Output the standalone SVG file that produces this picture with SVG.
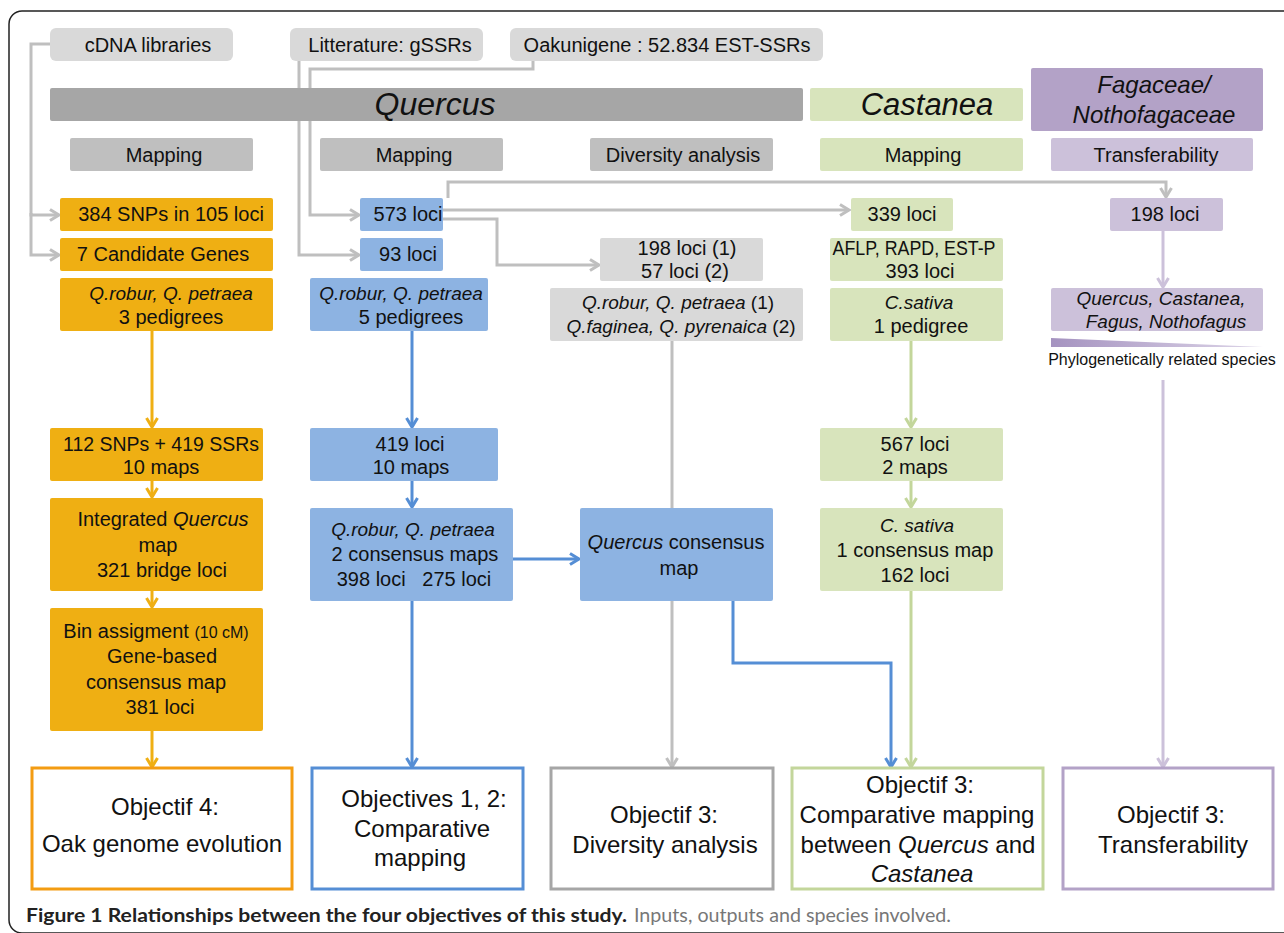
<svg xmlns="http://www.w3.org/2000/svg" width="1284" height="933" viewBox="0 0 1284 933">
<defs>
<style>
text{font-family:"Liberation Sans",Arial,sans-serif;fill:#111;text-anchor:middle}
.t18{font-size:20px}
.i{font-style:italic;font-size:19px}
.src{fill:#d9d9d9}
.sub{fill:#bfbfbf}
.or{fill:#efaf13}
.bl{fill:#8db3e2}
.gr{fill:#d9d9d9}
.gn{fill:#d8e4bc}
.pu{fill:#ccc1da}
.obj{fill:#fff;stroke-width:3}
.obt{font-size:24px}
.cg{fill:none;stroke:#bfbfbf;stroke-width:3}
.co{fill:none;stroke:#efaf13;stroke-width:3}
.cb{fill:none;stroke:#558ed5;stroke-width:3}
.cn{fill:none;stroke:#c3d69b;stroke-width:3}
.cp{fill:none;stroke:#ccc1da;stroke-width:3}
</style>
<marker id="ag" markerUnits="userSpaceOnUse" markerWidth="14" markerHeight="14" viewBox="0 0 14 14" refX="11" refY="7" orient="auto"><path d="M2,1.5 L11,7 L2,12.5" fill="none" stroke="#bfbfbf" stroke-width="3"/></marker>
<marker id="ao" markerUnits="userSpaceOnUse" markerWidth="14" markerHeight="14" viewBox="0 0 14 14" refX="11" refY="7" orient="auto"><path d="M2,1.5 L11,7 L2,12.5" fill="none" stroke="#efaf13" stroke-width="3"/></marker>
<marker id="ab" markerUnits="userSpaceOnUse" markerWidth="14" markerHeight="14" viewBox="0 0 14 14" refX="11" refY="7" orient="auto"><path d="M2,1.5 L11,7 L2,12.5" fill="none" stroke="#558ed5" stroke-width="3"/></marker>
<marker id="an" markerUnits="userSpaceOnUse" markerWidth="14" markerHeight="14" viewBox="0 0 14 14" refX="11" refY="7" orient="auto"><path d="M2,1.5 L11,7 L2,12.5" fill="none" stroke="#c3d69b" stroke-width="3"/></marker>
<marker id="ap" markerUnits="userSpaceOnUse" markerWidth="14" markerHeight="14" viewBox="0 0 14 14" refX="11" refY="7" orient="auto"><path d="M2,1.5 L11,7 L2,12.5" fill="none" stroke="#ccc1da" stroke-width="3"/></marker>
<linearGradient id="wedge" x1="0" y1="0" x2="1" y2="0"><stop offset="0" stop-color="#a593c0"/><stop offset="1" stop-color="#ddd5e8"/></linearGradient>
</defs>
<rect width="1284" height="933" fill="#fff"/>
<rect x="9" y="11" width="1300" height="922" rx="13" fill="none" stroke="#222" stroke-width="1.5"/>

<g id="connectors">
<path class="cg" d="M50,44 H31 V215 H59" marker-end="url(#ag)"/>
<path class="cg" d="M31,213 V255 H59" marker-end="url(#ag)"/>
<path class="cg" d="M299,61 V255 H359" marker-end="url(#ag)"/>
<path class="cg" d="M533,61 V69 H310 V215 H359" marker-end="url(#ag)"/>
<path class="cg" d="M448,198 V182 H1166 V197" marker-end="url(#ag)"/>
<path class="cg" d="M443,210 H849" marker-end="url(#ag)"/>
<path class="cg" d="M443,219 H497 V265 H599" marker-end="url(#ag)"/>
<path class="cg" d="M672,341 V508"/>
<path class="cg" d="M672,601 V767" marker-end="url(#ag)"/>
<path class="co" d="M152,331 V427" marker-end="url(#ao)"/>
<path class="co" d="M152,481 V497" marker-end="url(#ao)"/>
<path class="co" d="M152,591 V607" marker-end="url(#ao)"/>
<path class="co" d="M152,731 V767" marker-end="url(#ao)"/>
<path class="cb" d="M412,331 V427" marker-end="url(#ab)"/>
<path class="cb" d="M412,481 V507" marker-end="url(#ab)"/>
<path class="cb" d="M513,559 H579" marker-end="url(#ab)"/>
<path class="cb" d="M412,601 V767" marker-end="url(#ab)"/>
<path class="cb" d="M733,601 V663 H891 V767" stroke-width="2.5" marker-end="url(#ab)"/>
<path class="cn" d="M911,341 V427" marker-end="url(#an)"/>
<path class="cn" d="M911,481 V507" marker-end="url(#an)"/>
<path class="cn" d="M911,591 V767" marker-end="url(#an)"/>
<path class="cp" d="M1163,231 V287" marker-end="url(#ap)"/>
<path class="cp" d="M1163,380 V767" marker-end="url(#ap)"/>
</g>

<g id="src-cdna"><rect class="src" x="50" y="28" width="183" height="33" rx="6"/><text class="t18" x="148" y="52">cDNA libraries</text></g>
<g id="src-lit"><rect class="src" x="290" y="28" width="193" height="33" rx="6"/><text class="t18" x="390" y="52">Litterature: gSSRs</text></g>
<g id="src-oak"><rect class="src" x="510" y="28" width="313" height="33" rx="6"/><text class="t18" x="667" y="52">Oakunigene : 52.834 EST-SSRs</text></g>

<g id="hdr-quercus"><rect x="50" y="88" width="753" height="33" rx="2" fill="#a6a6a6"/><text x="435" y="115" style="font-size:32px;font-style:italic">Quercus</text></g>
<g id="hdr-castanea"><rect x="810" y="88" width="213" height="33" rx="2" fill="#d8e4bc"/><text x="927" y="115" style="font-size:31px;font-style:italic">Castanea</text></g>
<g id="hdr-fagaceae"><rect x="1031" y="68" width="232" height="63" rx="2" fill="#b3a2c7"/><text x="1154" y="93" style="font-size:24px;font-style:italic">Fagaceae/</text><text x="1154" y="123" style="font-size:24px;font-style:italic">Nothofagaceae</text></g>

<g id="sub-map1"><rect class="sub" x="70" y="138" width="183" height="33" rx="2"/><text class="t18" x="164" y="162">Mapping</text></g>
<g id="sub-map2"><rect class="sub" x="320" y="138" width="183" height="33" rx="2"/><text class="t18" x="414" y="162">Mapping</text></g>
<g id="sub-div"><rect class="sub" x="590" y="138" width="183" height="33" rx="2"/><text class="t18" x="683" y="162">Diversity analysis</text></g>
<g id="sub-map3"><rect class="gn" x="820" y="138" width="203" height="33" rx="2"/><text class="t18" x="923" y="162">Mapping</text></g>
<g id="sub-trans"><rect class="pu" x="1051" y="138" width="202" height="33" rx="2"/><text class="t18" x="1156" y="162">Transferability</text></g>

<g id="o-snps"><rect class="or" x="60" y="198" width="213" height="33" rx="2"/><text class="t18" x="171" y="221">384 SNPs in 105 loci</text></g>
<g id="o-cand"><rect class="or" x="60" y="238" width="213" height="33" rx="2"/><text class="t18" x="163" y="261">7 Candidate Genes</text></g>
<g id="o-ped"><rect class="or" x="60" y="278" width="213" height="53" rx="2"/><text class="t18 i" x="171" y="300">Q.robur, Q. petraea</text><text class="t18" x="171" y="324">3 pedigrees</text></g>
<g id="o-maps"><rect class="or" x="50" y="428" width="213" height="53" rx="2"/><text class="t18" x="161" y="451" textLength="196" lengthAdjust="spacingAndGlyphs">112 SNPs + 419 SSRs</text><text class="t18" x="161" y="474">10 maps</text></g>
<g id="o-int"><rect class="or" x="50" y="498" width="213" height="93" rx="2"/><text class="t18" x="163" y="526">Integrated <tspan style="font-style:italic">Quercus</tspan></text><text class="t18" x="158" y="552">map</text><text class="t18" x="162" y="577">321 bridge loci</text></g>
<g id="o-bin"><rect class="or" x="50" y="608" width="213" height="123" rx="2"/><text class="t18" x="156" y="638">Bin assigment <tspan style="font-size:16px">(10 cM)</tspan></text><text class="t18" x="162" y="663">Gene-based</text><text class="t18" x="156" y="689">consensus map</text><text class="t18" x="160" y="714">381 loci</text></g>

<g id="b-573"><rect class="bl" x="360" y="198" width="83" height="33" rx="2"/><text class="t18" x="408" y="221">573 loci</text></g>
<g id="b-93"><rect class="bl" x="360" y="238" width="83" height="33" rx="2"/><text class="t18" x="408" y="261">93 loci</text></g>
<g id="b-ped"><rect class="bl" x="310" y="278" width="178" height="53" rx="2"/><text class="t18 i" x="401" y="300">Q.robur, Q. petraea</text><text class="t18" x="411" y="324">5 pedigrees</text></g>
<g id="b-maps"><rect class="bl" x="310" y="428" width="188" height="53" rx="2"/><text class="t18" x="410" y="451">419 loci</text><text class="t18" x="411" y="474">10 maps</text></g>
<g id="b-cons2"><rect class="bl" x="310" y="508" width="203" height="93" rx="2"/><text class="t18 i" x="413" y="536">Q.robur, Q. petraea</text><text class="t18" x="415" y="561">2 consensus maps</text><text class="t18" x="414" y="586" xml:space="preserve">398 loci   275 loci</text></g>
<g id="b-qcons"><rect class="bl" x="580" y="508" width="193" height="93" rx="2"/><text class="t18" x="676" y="549"><tspan style="font-style:italic">Quercus</tspan> consensus</text><text class="t18" x="679" y="575">map</text></g>

<g id="g-loci"><rect class="gr" x="600" y="238" width="163" height="43" rx="2"/><text class="t18" x="687" y="255">198 loci (1)</text><text class="t18" x="685" y="278">57 loci (2)</text></g>
<g id="g-sp"><rect class="gr" x="550" y="288" width="253" height="53" rx="2"/><text class="t18" x="678" y="309" style="font-size:19px"><tspan style="font-style:italic">Q.robur, Q. petraea</tspan> (1)</text><text class="t18" x="681" y="333" style="font-size:19px"><tspan style="font-style:italic">Q.faginea, Q. pyrenaica</tspan> (2)</text></g>

<g id="n-339"><rect class="gn" x="851" y="198" width="102" height="33" rx="2"/><text class="t18" x="902" y="221">339 loci</text></g>
<g id="n-aflp"><rect class="gn" x="830" y="238" width="173" height="43" rx="2"/><text class="t18" x="914" y="255" textLength="163" lengthAdjust="spacingAndGlyphs">AFLP, RAPD, EST-P</text><text class="t18" x="920" y="278">393 loci</text></g>
<g id="n-ped"><rect class="gn" x="830" y="288" width="173" height="53" rx="2"/><text class="t18 i" x="919" y="309">C.sativa</text><text class="t18" x="921" y="333">1 pedigree</text></g>
<g id="n-maps"><rect class="gn" x="820" y="428" width="183" height="53" rx="2"/><text class="t18" x="915" y="451">567 loci</text><text class="t18" x="915" y="474">2 maps</text></g>
<g id="n-cons"><rect class="gn" x="820" y="508" width="183" height="83" rx="2"/><text class="t18 i" x="917" y="532">C. sativa</text><text class="t18" x="915" y="557">1 consensus map</text><text class="t18" x="915" y="582">162 loci</text></g>

<g id="p-198"><rect class="pu" x="1110" y="198" width="113" height="33" rx="2"/><text class="t18" x="1165" y="221">198 loci</text></g>
<g id="p-sp"><rect class="pu" x="1051" y="288" width="212" height="43" rx="2"/><text class="t18 i" x="1161" y="305">Quercus, Castanea,</text><text class="t18 i" x="1166" y="328">Fagus, Nothofagus</text></g>
<g id="p-phylo"><polygon points="1051,338 1263,347 1051,347" fill="url(#wedge)"/><text x="1162" y="365" style="font-size:16px">Phylogenetically related species</text></g>

<g id="obj4"><rect class="obj" x="32" y="768" width="260" height="121" stroke="#f39c12"/><text class="obt" x="165" y="815">Objectif 4:</text><text class="obt" x="162" y="852">Oak genome evolution</text></g>
<g id="obj12"><rect class="obj" x="312" y="768" width="211" height="121" stroke="#558ed5"/><text class="obt" x="424" y="807">Objectives 1, 2:</text><text class="obt" x="422" y="837">Comparative</text><text class="obt" x="420" y="866">mapping</text></g>
<g id="obj3d"><rect class="obj" x="551" y="768" width="222" height="121" stroke="#a6a6a6"/><text class="obt" x="664" y="823">Objectif 3:</text><text class="obt" x="665" y="853">Diversity analysis</text></g>
<g id="obj3c"><rect class="obj" x="792" y="768" width="251" height="121" stroke="#c3d69b"/><text class="obt" x="920" y="793">Objectif 3:</text><text class="obt" x="917" y="823">Comparative mapping</text><text class="obt" x="918" y="853">between <tspan style="font-style:italic">Quercus</tspan> and</text><text class="obt" x="922" y="882" style="font-style:italic">Castanea</text></g>
<g id="obj3t"><rect class="obj" x="1063" y="768" width="210" height="121" stroke="#b3a2c7"/><text class="obt" x="1171" y="823">Objectif 3:</text><text class="obt" x="1173" y="853">Transferability</text></g>

<g id="caption"><text x="26" y="922" textLength="601" lengthAdjust="spacingAndGlyphs" style="font-family:Lato,'Liberation Sans',sans-serif;font-size:19px;font-weight:bold;text-anchor:start;fill:#222">Figure 1 Relationships between the four objectives of this study.</text><text x="634" y="922" textLength="317" lengthAdjust="spacingAndGlyphs" style="font-family:Lato,'Liberation Sans',sans-serif;font-size:19px;text-anchor:start;fill:#777">Inputs, outputs and species involved.</text></g>
</svg>
